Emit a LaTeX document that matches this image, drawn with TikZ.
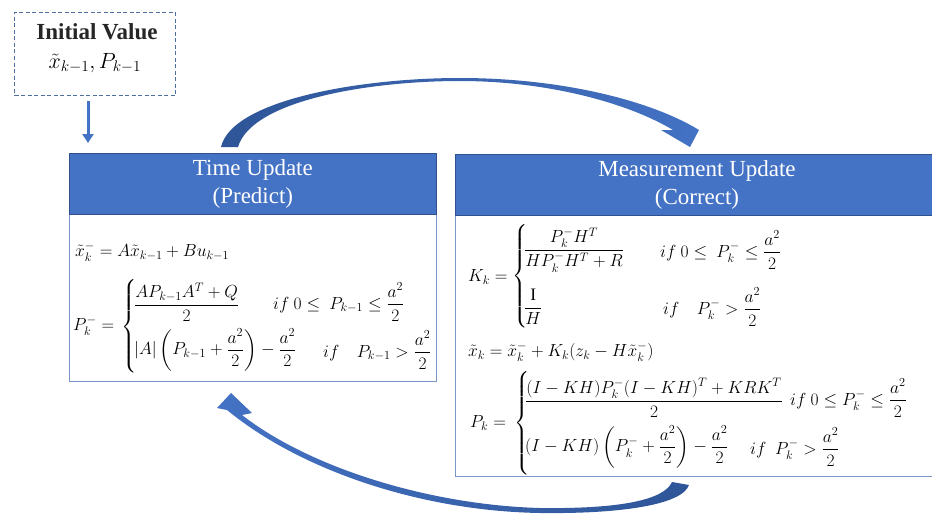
\RequirePackage{fix-cm}
\documentclass[tikz,border=0pt]{standalone}
\usepackage{amsmath}
\usepackage{fontspec}
\setmainfont{Liberation Serif}
\usetikzlibrary{arrows.meta}
\definecolor{hdr}{HTML}{4472C4}
\definecolor{hdrline}{HTML}{2F528F}
\definecolor{bodyline}{HTML}{7A96C8}
\definecolor{dashline}{HTML}{4F6FA0}
\definecolor{darkarrow}{HTML}{2E5597}
\definecolor{txt}{HTML}{262626}
\newcommand{\mybrace}[1]{$\nulldelimiterspace=0pt\left\{\vrule height #1 depth #1 width 0pt\right.$}
\begin{document}
\begin{tikzpicture}[x=1pt,y=-1pt,
  header/.style={draw=hdrline, line width=0.8pt, fill=hdr, text=white, align=center,
    font=\fontsize{23}{28}\selectfont, anchor=north west, inner sep=0pt},
  bodybox/.style={draw=bodyline, line width=1pt, fill=white, anchor=north west, inner sep=0pt},
  mathtxt/.style={anchor=west, inner sep=0pt, font=\fontsize{17.5}{20}\selectfont, text=black},
  initbox/.style={draw=dashline, line width=1pt, dash pattern=on 4pt off 2.5pt, anchor=north west,
    inner sep=0pt, align=center, text=txt},
  flow/.style={draw=hdr, line width=3pt, -{Triangle[width=11pt,length=9pt]}}
]
\useasboundingbox (0,0) rectangle (932,514);

% initial value
\node[initbox, minimum width=161pt, minimum height=83pt] (init) at (14,12) {};
\node[anchor=center, inner sep=0pt, text=txt, font=\fontsize{23}{28}\selectfont\bfseries] (inittitle) at (97,32) {Initial Value};
\node[anchor=center, inner sep=0pt, text=black, font=\fontsize{22}{26}\selectfont] (initval) at (95,63) {$\tilde{x}_{k-1}, P_{k-1}$};

% boxes
\node[bodybox, minimum width=367pt, minimum height=228pt] (tubody) at (69,153) {};
\node[header, minimum width=367pt, minimum height=61pt] (tuhead) at (69,153) {Time Update\\(Predict)};
\node[bodybox, minimum width=482pt, minimum height=322pt] (mubody) at (455,154) {};
\node[header, minimum width=482pt, minimum height=61pt] (muhead) at (455,154) {};
\node[anchor=center, inner sep=0pt, text=white, align=center, font=\fontsize{23}{28}\selectfont] (mutitle) at (697,185) {Measurement Update\\(Correct)};

% small arrow
\coordinate (ax) at (88,0);
\draw[flow, shorten <=5pt, shorten >=10pt] (init.south -| ax) -- (tuhead.north -| ax);

% time update math
\node[mathtxt] (e1) at (75,252) {$\tilde{x}_k^- = A\tilde{x}_{k-1} + Bu_{k-1}$};
\node[mathtxt] (p1l) at (73,326) {$P_k^- =$};
\node[mathtxt] (p1b) at (121,327) {\mybrace{43pt}};
\node[mathtxt] (p1a) at (134,302) {$\dfrac{AP_{k-1}A^T+Q}{2}$};
\node[mathtxt] (p1ac) at (273,302) {$if\ 0\le\ P_{k-1}\le\dfrac{a^2}{2}$};
\node[mathtxt] (p1b2) at (134,350) {$|A|\left(P_{k-1}+\dfrac{a^2}{2}\right)-\dfrac{a^2}{2}$};
\node[mathtxt] (p1bc) at (323,350) {$if\quad P_{k-1}>\dfrac{a^2}{2}$};

% measurement update math
\node[mathtxt] (kl) at (468,277) {$K_k =$};
\node[mathtxt] (kb) at (512,276) {\mybrace{46pt}};
\node[mathtxt] (ka) at (524,250) {$\dfrac{P_k^-H^T}{HP_k^-H^T+R}$};
\node[mathtxt] (kac) at (660,250) {$if\ 0\le\ P_k^-\le\dfrac{a^2}{2}$};
\node[mathtxt] (kb2) at (524,307) {$\dfrac{\mathrm{I}}{H}$};
\node[mathtxt] (kbc) at (663,307) {$if\quad P_k^->\dfrac{a^2}{2}$};

\node[mathtxt] (xk) at (468,352) {$\tilde{x}_k = \tilde{x}_k^- + K_k(z_k - H\tilde{x}_k^-)$};

\node[mathtxt] (pl) at (470,423) {$P_k =$};
\node[mathtxt] (pb) at (514,423) {\mybrace{45pt}};
\node[mathtxt] (pa) at (525,398) {$\dfrac{(I-KH)P_k^-(I-KH)^T+KRK^T}{2}$};
\node[mathtxt] (pac) at (790,398) {$if\ 0\le P_k^-\le\dfrac{a^2}{2}$};
\node[mathtxt] (pb2) at (525,447) {$(I-KH)\left(P_k^-+\dfrac{a^2}{2}\right)-\dfrac{a^2}{2}$};
\node[mathtxt] (pbc) at (750,447) {$if\ \ P_k^->\dfrac{a^2}{2}$};

% top curved arrow (predict -> correct)
\shade[left color=darkarrow, right color=hdr]
  (221,147) .. controls (232,100) and (360,78) .. (460,78)
  .. controls (560,78) and (650,100) .. (699,130)
  -- (690,147) -- (661,130) -- (673,130)
  .. controls (630,104) and (550,81) .. (460,81)
  .. controls (370,81) and (252,100) .. (238,147) -- cycle;

% bottom curved arrow (correct -> predict)
\shade[left color=hdr, right color=darkarrow]
  (689,485) .. controls (682,505) and (620,514) .. (540,513)
  .. controls (420,511) and (300,470) .. (227,410)
  -- (217,408) -- (231,393) -- (252,413) -- (242,415)
  .. controls (310,468) and (430,505) .. (540,508)
  .. controls (620,509) and (664,500) .. (672,482) -- cycle;
\end{tikzpicture}
\end{document}
